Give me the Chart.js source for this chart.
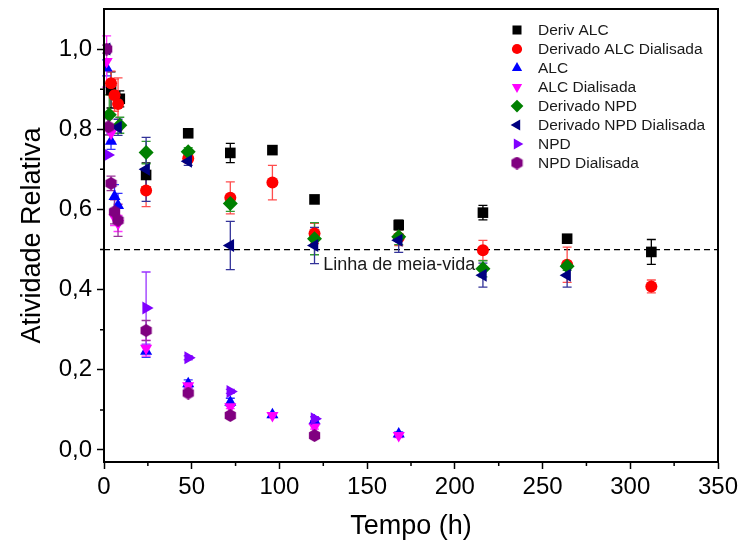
<!DOCTYPE html>
<html>
<head>
<meta charset="utf-8">
<script src="https://cdn.jsdelivr.net/npm/chart.js@4/dist/chart.umd.min.js"></script>
<style>
  body { margin: 0; background: #fff; }
  canvas { display: block; }
</style>
</head>
<body>
<canvas id="grafico" width="740" height="549"></canvas>
<script>
// dados (tempo em h, atividade relativa, erro)
const tDerivALC = [4, 9, 24, 48, 72, 96, 120, 168, 216, 264, 312];
const vDerivALC = [0.898, 0.876, 0.686, 0.79, 0.741, 0.748, 0.625, 0.561, 0.592, 0.527, 0.494];
const eDerivALC = [0.045, 0.02, 0.03, 0, 0.024, 0, 0, 0.012, 0.018, 0, 0.031];

const tDerivALCDial = [4, 6, 8, 24, 48, 72, 96, 120, 168, 216, 264, 312];
const vDerivALCDial = [0.915, 0.885, 0.863, 0.647, 0.727, 0.629, 0.667, 0.54, 0.53, 0.498, 0.462, 0.408];
const eDerivALCDial = [0.03, 0.04, 0.065, 0.04, 0.01, 0.04, 0.043, 0.025, 0.02, 0.025, 0.044, 0.016];

const tALC = [1.5, 4, 6, 8, 24, 48, 72, 96, 120, 168];
const vALC = [0.953, 0.77, 0.632, 0.61, 0.246, 0.165, 0.119, 0.088, 0.073, 0.04];
const eALC = [0.02, 0.02, 0.03, 0.03, 0.015, 0.01, 0.01, 0.005, 0.01, 0.005];

const tALCDial = [1.5, 4, 6, 8, 24, 48, 72, 96, 120, 168];
const vALCDial = [0.969, 0.79, 0.58, 0.565, 0.254, 0.16, 0.108, 0.086, 0.057, 0.036];
const eALCDial = [0.064, 0.02, 0.02, 0.02, 0.02, 0.005, 0.005, 0.005, 0.005, 0.005];

const tDerivNPD = [3, 9, 24, 48, 72, 120, 168, 216, 264];
const vDerivNPD = [0.836, 0.81, 0.742, 0.744, 0.615, 0.527, 0.532, 0.452, 0.458];
const eDerivNPD = [0.05, 0.02, 0.028, 0.01, 0.02, 0.04, 0.02, 0.02, 0.01];

const tDerivNPDDial = [1.5, 8, 24, 48, 72, 120, 168, 216, 264];
const vDerivNPDDial = [1.0, 0.805, 0.70, 0.72, 0.51, 0.51, 0.523, 0.436, 0.436];
const eDerivNPDDial = [0, 0.02, 0.08, 0.01, 0.06, 0.045, 0.03, 0.03, 0.03];

const tNPD = [2, 24, 48, 72, 120];
const vNPD = [0.736, 0.354, 0.23, 0.146, 0.078];
const eNPD = [0, 0.09, 0.005, 0.005, 0.005];

const tNPDDial = [1.5, 2.5, 4, 6, 8, 24, 48, 72, 120];
const vNPDDial = [1.0, 0.806, 0.665, 0.594, 0.573, 0.298, 0.142, 0.086, 0.036];
const eNPDDial = [0.01, 0.02, 0.018, 0.03, 0.04, 0.025, 0.005, 0.005, 0.005];

const xTicks = [0, 50, 100, 150, 200, 250, 300, 350];
const yTicks = [0, 0.2, 0.4, 0.6, 0.8, 1.0];
const meiaVida = 0.5;

const fonte = "'Liberation Sans', Arial, sans-serif";

// hexagono para NPD Dialisada
function hexagono(cor, lado) {
  const c = document.createElement('canvas');
  c.width = lado; c.height = lado;
  const g = c.getContext('2d');
  const r = lado / 2;
  g.fillStyle = cor;
  g.beginPath();
  for (let i = 0; i < 6; i++) {
    const a = Math.PI / 2 + i * Math.PI / 3;
    const px = r + r * Math.cos(a), py = r + r * Math.sin(a);
    if (i == 0) g.moveTo(px, py); else g.lineTo(px, py);
  }
  g.closePath();
  g.fill();
  return c;
}

const series = [
  { label: 'Deriv ALC', t: tDerivALC, v: vDerivALC, e: eDerivALC, cor: '#000000', erro: '#000000', estilo: 'rect', rot: 0, r: 7.5 },
  { label: 'Derivado ALC Dialisada', t: tDerivALCDial, v: vDerivALCDial, e: eDerivALCDial, cor: '#ff0000', erro: '#ff4d4d', estilo: 'circle', rot: 0, r: 6 },
  { label: 'ALC', t: tALC, v: vALC, e: eALC, cor: '#0000ff', erro: '#3333ff', estilo: 'triangle', rot: 0, r: 7 },
  { label: 'ALC Dialisada', t: tALCDial, v: vALCDial, e: eALCDial, cor: '#ff00ff', erro: '#ff33ff', estilo: 'triangle', rot: 180, r: 7 },
  { label: 'Derivado NPD', t: tDerivNPD, v: vDerivNPD, e: eDerivNPD, cor: '#008000', erro: '#339933', estilo: 'rectRot', rot: 0, r: 7.5 },
  { label: 'Derivado NPD Dialisada', t: tDerivNPDDial, v: vDerivNPDDial, e: eDerivNPDDial, cor: '#000080', erro: '#333399', estilo: 'triangle', rot: -90, r: 7.5 },
  { label: 'NPD', t: tNPD, v: vNPD, e: eNPD, cor: '#8000ff', erro: '#9933ff', estilo: 'triangle', rot: 90, r: 7.5 },
  { label: 'NPD Dialisada', t: tNPDDial, v: vNPDDial, e: eNPDDial, cor: '#800080', erro: '#993399', estilo: hexagono('#800080', 13), rot: 0, r: 6.5 }
];

const datasets = series.map(function(s, i) {
  return {
    label: s.label,
    data: s.t.map(function(x, k) { return { x: x, y: s.v[k] }; }),
    erros: s.e,
    corErro: s.erro,
    pointStyle: s.estilo,
    rotation: s.rot,
    pointRadius: s.r,
    pointHoverRadius: s.r,
    backgroundColor: s.cor,
    borderColor: s.cor,
    pointBorderWidth: 0,
    showLine: false,
    order: series.length - i
  };
});

// barras de erro, linha de meia-vida
const extras = {
  id: 'extras',
  beforeDatasetsDraw(chart) {
    const ctx = chart.ctx;
    const xs = chart.scales.x, ys = chart.scales.y;
    const a = chart.chartArea;
    ctx.save();
    ctx.strokeStyle = '#000';
    ctx.lineWidth = 1.2;
    ctx.setLineDash([6, 4]);
    const y5 = ys.getPixelForValue(meiaVida);
    ctx.beginPath(); ctx.moveTo(a.left, y5); ctx.lineTo(a.right, y5); ctx.stroke();
    ctx.setLineDash([]);
    ctx.fillStyle = '#1a1a1a';
    ctx.font = '18px ' + fonte;
    ctx.textBaseline = 'middle';
    ctx.fillText('Linha de meia-vida', xs.getPixelForValue(125), y5 + 16);

    chart.data.datasets.forEach(function(ds, i) {
      const meta = chart.getDatasetMeta(i);
      ctx.strokeStyle = ds.corErro;
      ctx.lineWidth = 1.3;
      ds.data.forEach(function(p, k) {
        const e = ds.erros[k];
        if (!e) return;
        const px = meta.data[k].x;
        const y1 = ys.getPixelForValue(p.y + e), y2 = ys.getPixelForValue(p.y - e);
        ctx.beginPath();
        ctx.moveTo(px, y1); ctx.lineTo(px, y2);
        ctx.moveTo(px - 4.5, y1); ctx.lineTo(px + 4.5, y1);
        ctx.moveTo(px - 4.5, y2); ctx.lineTo(px + 4.5, y2);
        ctx.stroke();
      });
    });
    ctx.restore();
  },
  afterDraw(chart) {
    const ctx = chart.ctx;
    const xs = chart.scales.x, ys = chart.scales.y;
    const a = chart.chartArea;
    ctx.save();
    // moldura
    ctx.strokeStyle = '#000';
    ctx.lineWidth = 2;
    ctx.strokeRect(a.left, a.top, a.right - a.left, a.bottom - a.top);
    // ticks menores
    ctx.lineWidth = 1.5;
    ctx.beginPath();
    for (let i = 0; i < xTicks.length - 1; i++) {
      const px = xs.getPixelForValue((xTicks[i] + xTicks[i + 1]) / 2);
      ctx.moveTo(px, a.bottom); ctx.lineTo(px, a.bottom + 4);
    }
    for (let i = 0; i < yTicks.length - 1; i++) {
      const py = ys.getPixelForValue((yTicks[i] + yTicks[i + 1]) / 2);
      ctx.moveTo(a.left, py); ctx.lineTo(a.left - 4, py);
    }
    ctx.stroke();
    // legenda
    ctx.font = '15.5px ' + fonte;
    ctx.textBaseline = 'middle';
    series.forEach(function(s, i) {
      const ly = 30 + i * 19;
      ctx.fillStyle = s.cor;
      Chart.helpers.drawPoint(ctx, { pointStyle: s.estilo, rotation: s.rot, radius: s.r * 0.85, borderWidth: 0 }, 517, ly);
      ctx.fillStyle = '#1a1a1a';
      ctx.fillText(s.label, 538, ly + 1);
    });
    ctx.restore();
  }
};

const config = {
  type: 'scatter',
  data: { datasets: datasets },
  options: {
    responsive: false,
    animation: false,
    devicePixelRatio: 1,
    layout: { padding: { top: 9, right: 22, left: 0, bottom: 0 } },
    plugins: { legend: { display: false }, tooltip: { enabled: false } },
    scales: {
      x: {
        type: 'linear',
        min: 0, max: 350,
        afterBuildTicks: function(s) { s.ticks = xTicks.map(function(v) { return { value: v }; }); },
        afterFit: function(s) { s.height = 87; s.paddingLeft = 0; s.paddingRight = 0; },
        grid: { drawOnChartArea: false, tickLength: 7, tickColor: '#000', tickWidth: 1.5 },
        border: { display: true, color: '#000', width: 2 },
        ticks: { color: '#000', font: { family: fonte, size: 24 }, padding: 4, autoSkip: false, maxRotation: 0 },
        title: { display: true, text: 'Tempo (h)', color: '#000', font: { family: fonte, size: 27 }, padding: { top: 0, bottom: 6 } }
      },
      y: {
        type: 'linear',
        min: -0.03, max: 1.1,
        afterBuildTicks: function(s) { s.ticks = yTicks.map(function(v) { return { value: v }; }); },
        afterFit: function(s) { s.width = 104; s.paddingTop = 0; s.paddingBottom = 0; },
        grid: { drawOnChartArea: false, tickLength: 7, tickColor: '#000', tickWidth: 1.5 },
        border: { display: true, color: '#000', width: 2 },
        ticks: {
          color: '#000', font: { family: fonte, size: 24 }, padding: 5,
          callback: function(v) { return v.toFixed(1).replace('.', ','); }
        },
        title: { display: true, text: 'Atividade Relativa', color: '#000', font: { family: fonte, size: 27 }, padding: { top: 16, bottom: 0 } }
      }
    }
  },
  plugins: [extras]
};

new Chart(document.getElementById('grafico').getContext('2d'), config);
</script>
</body>
</html>
